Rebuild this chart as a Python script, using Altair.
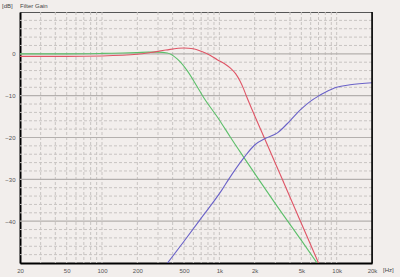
import altair as alt
import pandas as pd

# Curve values (frequency in Hz, gain in dB)
green_f = [20, 50, 100, 150, 200, 250, 300, 360, 437, 532, 646, 719, 1000, 1247, 1622, 2164, 3000, 5000, 7200]
green_db = [0.0, 0.0, 0.1, 0.2, 0.3, 0.4, 0.4, 0.2, -1.2, -4.0, -7.8, -10.0, -15.8, -20.0, -24.8, -30.0, -35.8, -44.6, -51.0]

red_f = [20, 50, 100, 200, 258, 350, 498, 600, 700, 840, 960, 1100, 1250, 1380, 1500, 1600, 1690, 2000, 2410, 3440, 4910, 7000, 7500]
red_db = [-0.6, -0.6, -0.5, -0.1, 0.3, 0.9, 1.4, 1.2, 0.6, -0.4, -1.4, -2.3, -3.5, -4.8, -6.5, -8.2, -9.9, -14.8, -20.0, -30.0, -40.0, -50.0, -52.0]

blue_f = [340, 500, 690, 1059, 1200, 1622, 2000, 2480, 3125, 4000, 4945, 6000, 7000, 8000, 10000, 13000, 20000]
blue_db = [-51.0, -44.8, -39.5, -32.4, -30.0, -24.8, -21.8, -20.2, -18.9, -16.0, -13.3, -11.3, -10.1, -9.2, -8.0, -7.4, -6.9]

x_ticks = [20, 50, 100, 200, 500, 1000, 2000, 5000, 10000, 20000]
y_ticks = [0, -10, -20, -30, -40]
y_major = [0, -10, -20, -30, -40]
y_minor = [8, 6, 4, 2, -2, -4, -6, -8, -12, -14, -16, -18, -22, -24, -26, -28,
           -32, -34, -36, -38, -42, -44, -46, -48]
x_grid = [30, 40, 50, 60, 70, 80, 90, 100, 200, 300, 400, 500, 600, 700, 800, 900,
          1000, 2000, 3000, 4000, 5000, 6000, 7000, 8000, 9000, 10000]

BG = "#f2eeec"
W, H = 352, 251
FS = 6

xscale = alt.Scale(type="log", domain=[20, 20000], nice=False)
yscale = alt.Scale(domain=[-50, 10], nice=False)

curves = pd.concat([
    pd.DataFrame({"f": green_f, "db": green_db, "s": "g"}),
    pd.DataFrame({"f": red_f, "db": red_db, "s": "r"}),
    pd.DataFrame({"f": blue_f, "db": blue_db, "s": "b"}),
])

xaxis = alt.Axis(values=x_ticks, grid=False, tickSize=0, labelPadding=4,
                 labelFontSize=FS, labelColor="#555555", labelFont="Liberation Sans",
                 labelExpr="datum.value >= 1000 ? (datum.value / 1000) + 'k' : datum.value",
                 domainColor="#000000", domainWidth=2, title=None, labelFlush=False)
yaxis = alt.Axis(values=y_ticks, grid=False, tickSize=0, labelPadding=5,
                 labelFontSize=FS, labelColor="#555555", labelFont="Liberation Sans",
                 domainColor="#000000", domainWidth=2, title=None)

minor_h = alt.Chart(pd.DataFrame({"y": y_minor})).mark_rule(
    color="#c8c4c2", strokeDash=[3, 2], strokeWidth=1
).encode(y=alt.Y("y:Q", scale=yscale, axis=yaxis))

grid_v = alt.Chart(pd.DataFrame({"x": x_grid})).mark_rule(
    color="#c8c4c2", strokeDash=[3, 2], strokeWidth=1
).encode(x=alt.X("x:Q", scale=xscale, axis=xaxis))

major_h = alt.Chart(pd.DataFrame({"y": y_major})).mark_rule(
    color="#b4b0ae", strokeWidth=1.2
).encode(y=alt.Y("y:Q", scale=yscale, axis=yaxis))

lines = alt.Chart(curves).mark_line(strokeWidth=1.1, clip=True, interpolate="monotone").encode(
    x=alt.X("f:Q", scale=xscale, axis=xaxis),
    y=alt.Y("db:Q", scale=yscale, axis=yaxis),
    color=alt.Color("s:N", scale=alt.Scale(domain=["g", "r", "b"],
                                            range=["#5cbf6a", "#df5566", "#6a62c8"]),
                    legend=None),
    detail="s:N",
)

right_edge = alt.Chart(pd.DataFrame({"x": [20000]})).mark_rule(
    color="#000000", strokeWidth=1.5
).encode(x=alt.X("x:Q", scale=xscale, axis=xaxis))

labels = pd.DataFrame({
    "t": ["[dB]", "Filter Gain", "[Hz]"],
    "px": [-18, 0, 363],
    "py": [-6, -6, 258],
})
texts = alt.Chart(labels).mark_text(
    align="left", baseline="middle", fontSize=FS, font="Liberation Sans", color="#444444"
).encode(
    text="t:N",
    x=alt.X("px:Q", scale=None),
    y=alt.Y("py:Q", scale=None),
)

chart = alt.layer(minor_h, grid_v, major_h, lines, right_edge, texts).properties(
    width=W, height=H, background=BG,
    padding={"left": 20, "top": 12, "right": 28, "bottom": 14},
    autosize=alt.AutoSizeParams(type="none"),
).configure_view(stroke="#555555", strokeWidth=1, fill=BG)

chart.save("out.html", embed_options={"renderer": "svg", "actions": False})
